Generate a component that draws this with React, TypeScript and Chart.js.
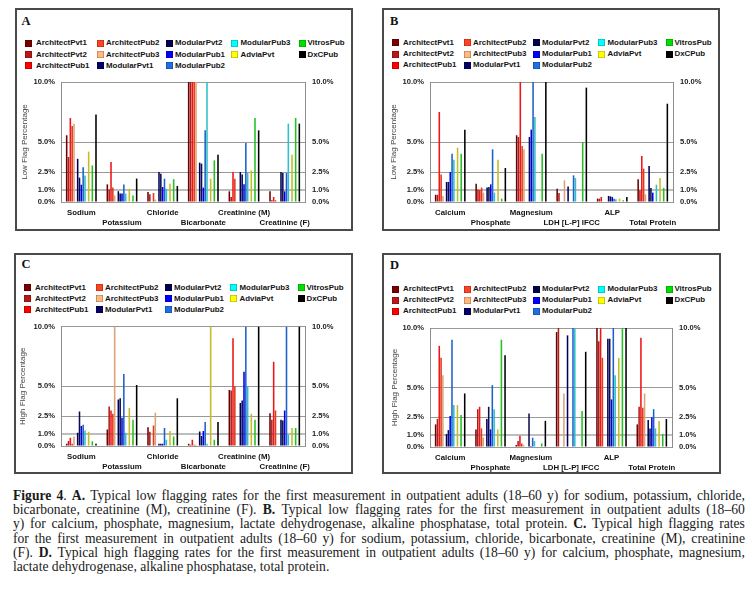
import React, { useEffect, useRef } from 'react';
import { Chart, registerables } from 'chart.js';

Chart.register(...registerables);

const SERIES = ['ArchitectPvt1', 'ArchitectPvt2', 'ArchitectPub1', 'ArchitectPub2', 'ArchitectPub3', 'ModularPvt1', 'ModularPvt2', 'ModularPub1', 'ModularPub2', 'ModularPub3', 'AdviaPvt', 'VitrosPub', 'DxCPub'];
const BAR_COLORS = ['#6e0000', '#b01c1c', '#f01414', '#e03a1a', '#dca276', '#00005a', '#0c0c4e', '#0000e6', '#1c60cc', '#2cc0c8', '#c4bc22', '#22c022', '#000000'];
const LEGEND_COLORS = ['#7a0000', '#b81818', '#ff0000', '#ff4422', '#ffb880', '#000066', '#000050', '#0000ff', '#1e6ee6', '#00ffff', '#ffff00', '#00e000', '#000000'];
const LEGEND_COLUMNS = [[0, 1, 2], [3, 4, 5], [6, 7, 8], [9, 10], [11, 12]];
const SPACER_AFTER = [4, 9, 10, 11];
const TICK_VALUES = [0, 1, 2.5, 5, 10];

const CATEGORIES_AC = ['Sodium', 'Potassium', 'Chloride', 'Bicarbonate', 'Creatinine (M)', 'Creatinine (F)'];
const CATEGORIES_BD = ['Calcium', 'Phosphate', 'Magnesium', 'LDH [L-P] IFCC', 'ALP', 'Total Protein'];

// Panel A: low flag %, values per category in SERIES order
const lowSodium = [5.56, 3.75, 7.0, 6.33, 6.53, 3.6, 2.03, 1.44, 2.9, 2.2, 4.2, 3.05, 7.3];
const lowPotassium = [1.47, 1.05, 3.33, 1.2, 0.55, 0.9, 0.7, 0.7, 1.45, 0.7, 1.1, 0.55, 1.95];
const lowChloride = [0.83, 0.64, 0, 0.75, 0.2, 2.5, 2.35, 1.25, 1.94, 1.1, 1.53, 1.9, 1.33];
const lowBicarbonate = [10, 10, 10, 10, 10, 3.28, 3.2, 1.2, 5.97, 10, 1.94, 3.47, 3.94];
const lowCreatinineM = [0.89, 0.42, 2.5, 1.94, 0, 2.5, 2.3, 1.47, 4.92, 2.42, 2.64, 7.0, 5.97];
const lowCreatinineF = [0.89, 0.15, 0.42, 0.15, 0, 2.5, 2.42, 0.89, 2.42, 6.53, 3.94, 7.0, 6.53];

// Panel B: low flag %
const lowCalcium = [0.6, 0.6, 7.5, 2.3, 0.5, 1.67, 1.67, 2.5, 4.03, 3.53, 4.53, 4.03, 6.03];
const lowPhosphate = [1.53, 1.05, 1.0, 1.2, 0.78, 1.2, 1.25, 1.47, 4.39, 0.78, 3.53, 0.28, 2.83];
const lowMagnesium = [5.56, 5.42, 10, 4.67, 4.39, 0, 5.42, 6.03, 10, 7.08, 0, 4.03, 10];
const lowLDH = [1.1, 0.75, 0, 0, 1.8, 1.3, 0, 0, 2.22, 2.0, 0, 5.0, 9.53];
const lowALP = [0.28, 0.28, 0.42, 0, 0, 0.5, 0.47, 0.42, 0.28, 0.22, 0.28, 0.14, 0.42];
const lowTotalProtein = [1.9, 0.97, 3.83, 2.78, 0.64, 3.0, 1.17, 0.78, 0, 1.44, 2.0, 1.17, 8.19];

// Panel C: high flag %
const highSodium = [0.19, 0.42, 0.69, 0.19, 0.8, 1.11, 2.89, 1.67, 1.78, 1.3, 1.2, 0.39, 0.19];
const highPotassium = [1.39, 3.3, 2.97, 2.69, 10, 3.89, 4.0, 2.36, 6.03, 1.11, 3.19, 2.19, 5.11];
const highChloride = [1.58, 1.2, 0, 1.72, 2.78, 0.19, 0.19, 0.19, 1.5, 0.53, 1.25, 0.8, 4.0];
const highBicarbonate = [0.19, 0.1, 0.53, 0.1, 0.1, 1.22, 0.83, 1.25, 2.0, 0.19, 10, 0.53, 2.0];
const highCreatinineM = [4.69, 4.64, 9.03, 5.0, 0, 3.61, 3.81, 6.22, 10, 5.0, 2.69, 2.19, 10];
const highCreatinineF = [2.75, 2.19, 7.06, 2.97, 0, 2.19, 2.14, 2.97, 10, 0.94, 1.5, 1.5, 10];

// Panel D: high flag %
const highCalcium = [1.9, 2.35, 8.5, 7.5, 6.03, 1.09, 1.42, 2.6, 9.02, 3.52, 3.52, 2.68, 4.5];
const highPhosphate = [1.48, 3.18, 3.38, 1.56, 0.81, 2.35, 3.38, 1.48, 5.2, 3.18, 1.48, 9.02, 7.7];
const highMagnesium = [0.17, 0.5, 0.95, 0.3, 0.17, 0, 2.82, 0.08, 0.78, 0.5, 0, 0.3, 2.2];
const highLDH = [9.66, 10, 0, 0, 4.5, 9.38, 0, 0, 10, 10, 0, 3.02, 8.0];
const highALP = [10, 8.88, 10, 7.5, 0, 9.1, 9.1, 4.0, 10, 6.03, 7.48, 10, 10];
const highTotalProtein = [1.9, 3.38, 9.19, 3.3, 4.5, 2.26, 1.56, 2.49, 3.18, 1.56, 2.18, 1.09, 2.35];

const CAPTION_LINES = [
  '**Figure** **4**. **A.** Typical low flagging rates for the first measurement in outpatient adults (18–60 y) for sodium, potassium, chloride,',
  'bicarbonate, creatinine (M), creatinine (F). **B.** Typical low flagging rates for the first measurement in outpatient adults (18–60',
  'y) for calcium, phosphate, magnesium, lactate dehydrogenase, alkaline phosphatase, total protein. **C.** Typical high flagging rates',
  'for the first measurement in outpatient adults (18–60 y) for sodium, potassium, chloride, bicarbonate, creatinine (M), creatinine',
  '(F). **D.** Typical high flagging rates for the first measurement in outpatient adults (18–60 y) for calcium, phosphate, magnesium,',
  'lactate dehydrogenase, alkaline phosphatase, total protein.',
];

type PanelDef = {
  left: number; top: number; width: number; height: number;
  letter: string; letterX: number; letterY: number;
  yTitle: string; titleX: number;
  plotLeft: number; plotRight: number; plotTop: number; plotBottom: number;
  legendY: number;
  categories: string[];
  rows: number[][];
};

const PANELS: PanelDef[] = [
  {
    left: 15, top: 8, width: 338, height: 223, letter: 'A', letterX: 21.5, letterY: 21.2,
    yTitle: 'Low Flag Percentage', titleX: 25,
    plotLeft: 61, plotRight: 305, plotTop: 82, plotBottom: 202, legendY: 43.3,
    categories: CATEGORIES_AC,
    rows: [lowSodium, lowPotassium, lowChloride, lowBicarbonate, lowCreatinineM, lowCreatinineF],
  },
  {
    left: 382, top: 8, width: 338, height: 223, letter: 'B', letterX: 390, letterY: 20.8,
    yTitle: 'Low Flag Percentage', titleX: 394,
    plotLeft: 430, plotRight: 673, plotTop: 82, plotBottom: 202, legendY: 42.8,
    categories: CATEGORIES_BD,
    rows: [lowCalcium, lowPhosphate, lowMagnesium, lowLDH, lowALP, lowTotalProtein],
  },
  {
    left: 14, top: 253, width: 339, height: 221, letter: 'C', letterX: 21.5, letterY: 264,
    yTitle: 'High Flag Percentage', titleX: 23,
    plotLeft: 61, plotRight: 305, plotTop: 326, plotBottom: 446, legendY: 287.5,
    categories: CATEGORIES_AC,
    rows: [highSodium, highPotassium, highChloride, highBicarbonate, highCreatinineM, highCreatinineF],
  },
  {
    left: 382, top: 253, width: 339, height: 221, letter: 'D', letterX: 390, letterY: 265,
    yTitle: 'High Flag Percentage', titleX: 395,
    plotLeft: 430, plotRight: 672, plotTop: 328, plotBottom: 447, legendY: 289,
    categories: CATEGORIES_BD,
    rows: [highCalcium, highPhosphate, highMagnesium, highLDH, highALP, highTotalProtein],
  },
];

const SANS = '"Liberation Sans", Arial, sans-serif';
const SERIF = '"Liberation Serif", "Times New Roman", serif';
const LEGEND_SQ_X = [9.5, 82, 150.5, 216, 283.5];
const LEGEND_TX_X = [21, 91, 160, 225.5, 292.5];
const LEGEND_ROW_GAP = 11.2;

function Panel({ def }: { def: PanelDef }) {
  const ref = useRef<HTMLCanvasElement | null>(null);
  const cx0 = def.left + 2;
  const cy0 = def.top + 62;
  const cw = def.width - 4;
  const ch = def.height - 64;

  useEffect(() => {
    const leftW = def.plotLeft - cx0;
    const rightW = cx0 + cw - def.plotRight;
    const padTop = def.plotTop - cy0;
    const xH = cy0 + ch - def.plotBottom;
    const titleFontSize = 8;
    const titleLH = titleFontSize * 1.2;
    const titlePad = def.titleX - cx0 - titleLH / 2;

    const datasets: any[] = [];
    SERIES.forEach((name, s) => {
      datasets.push({
        label: name,
        data: def.rows.map((row) => row[s]),
        backgroundColor: BAR_COLORS[s],
        borderWidth: 0,
      });
      if (SPACER_AFTER.includes(s)) {
        datasets.push({ label: '', data: def.rows.map(() => null), backgroundColor: 'rgba(0,0,0,0)' });
      }
    });

    const tickFont = { family: SANS, size: 7.6, weight: 'bold' as const, lineHeight: 1.2 };
    const buildTicks = (scale: any) => {
      scale.ticks = TICK_VALUES.map((v) => ({ value: v }));
    };
    const fmt = (v: any) => Number(v).toFixed(1) + '%';

    const chart = new Chart(ref.current as HTMLCanvasElement, {
      type: 'bar',
      data: {
        labels: def.categories.map((c, i) => (i % 2 === 0 ? [c, ''] : ['', c])),
        datasets,
      },
      options: {
        responsive: false,
        animation: false,
        events: [],
        layout: { padding: { top: padTop, left: 0, right: 0, bottom: 0 } },
        plugins: { legend: { display: false }, tooltip: { enabled: false }, title: { display: false } },
        datasets: { bar: { categoryPercentage: 0.766, barPercentage: 0.85 } },
        scales: {
          x: {
            grid: { display: false, drawTicks: false },
            border: { display: false },
            ticks: {
              autoSkip: false, maxRotation: 0, minRotation: 0, padding: 6, color: '#111',
              font: { family: SANS, size: 7.8, weight: 'bold', lineHeight: '10px' },
            },
            afterFit: (s: any) => { s.height = xH; },
          },
          y: {
            position: 'left', min: 0, max: 10,
            afterBuildTicks: buildTicks,
            ticks: { autoSkip: false, padding: 6, color: '#222', font: tickFont, callback: fmt },
            grid: {
              drawTicks: false,
              color: (ctx: any) => (ctx.tick && ctx.tick.value === 1 ? '#bdbdbd' : '#999999'),
              lineWidth: (ctx: any) => (ctx.tick && ctx.tick.value === 1 ? 2 : 1),
            },
            border: { display: true, color: '#8c8c8c', width: 1 },
            title: {
              display: true, text: def.yTitle, color: '#444',
              font: { family: SANS, size: titleFontSize, weight: 'normal', lineHeight: 1.2 },
              padding: { top: titlePad, bottom: 0 },
            },
            afterFit: (s: any) => { s.width = leftW; },
          },
          y2: {
            position: 'right', min: 0, max: 10,
            afterBuildTicks: buildTicks,
            ticks: { autoSkip: false, padding: 7, color: '#222', font: tickFont, callback: fmt },
            grid: { display: false, drawTicks: false },
            border: { display: true, color: '#8c8c8c', width: 1 },
            afterFit: (s: any) => { s.width = rightW; },
          },
        },
      } as any,
    });
    return () => chart.destroy();
  }, []);

  const legendItems: React.ReactNode[] = [];
  LEGEND_COLUMNS.forEach((col, c) => {
    col.forEach((s, r) => {
      const cy = def.legendY + r * LEGEND_ROW_GAP;
      legendItems.push(
        <div key={'sq' + s} style={{
          position: 'absolute', left: def.left + LEGEND_SQ_X[c], top: cy - 3.5, width: 7, height: 7,
          background: LEGEND_COLORS[s], boxShadow: 'inset 0 0 0 0.6px rgba(0,0,0,0.35)',
        }} />,
        <div key={'tx' + s} style={{
          position: 'absolute', left: def.left + LEGEND_TX_X[c], top: cy - 5, height: 10, lineHeight: '10px',
          fontFamily: SANS, fontWeight: 'bold', fontSize: 7.9, color: '#151515', whiteSpace: 'nowrap',
        }}>{SERIES[s]}</div>,
      );
    });
  });

  return (
    <>
      <div style={{
        position: 'absolute', left: def.left, top: def.top, width: def.width, height: def.height,
        border: '2px solid #4a4a4a', boxSizing: 'border-box', background: '#fff',
      }} />
      <div style={{
        position: 'absolute', left: def.letterX, top: def.letterY - 7, height: 14, lineHeight: '14px',
        fontFamily: SERIF, fontWeight: 'bold', fontSize: 12.5, color: '#111',
      }}>{def.letter}</div>
      {legendItems}
      <canvas ref={ref} width={cw} height={ch} style={{ position: 'absolute', left: cx0, top: cy0, width: cw, height: ch }} />
    </>
  );
}

function renderWord(word: string, key: number) {
  const parts = word.split('**');
  return (
    <span key={key}>
      {parts.map((p, i) => (i % 2 === 1 ? <b key={i}>{p}</b> : <React.Fragment key={i}>{p}</React.Fragment>))}
    </span>
  );
}

function Caption() {
  return (
    <>
      {CAPTION_LINES.map((line, i) => {
        const words = line.split(' ');
        const last = i === CAPTION_LINES.length - 1;
        return (
          <div key={i} style={{
            position: 'absolute', left: 13, top: 489 + i * 14.2, width: 732, height: 14.2,
            lineHeight: '14.2px', fontFamily: SERIF, fontSize: 13.6, color: '#1a1a1a', whiteSpace: 'nowrap',
            display: 'flex', justifyContent: last ? 'flex-start' : 'space-between', gap: last ? '3.4px' : 0,
          }}>
            {words.map((w, k) => renderWord(w, k))}
          </div>
        );
      })}
    </>
  );
}

export default function App() {
  return (
    <div style={{ position: 'absolute', left: 0, top: 0, width: 755, height: 592, background: '#fff', overflow: 'hidden' }}>
      {PANELS.map((p) => <Panel key={p.letter} def={p} />)}
      <Caption />
    </div>
  );
}
